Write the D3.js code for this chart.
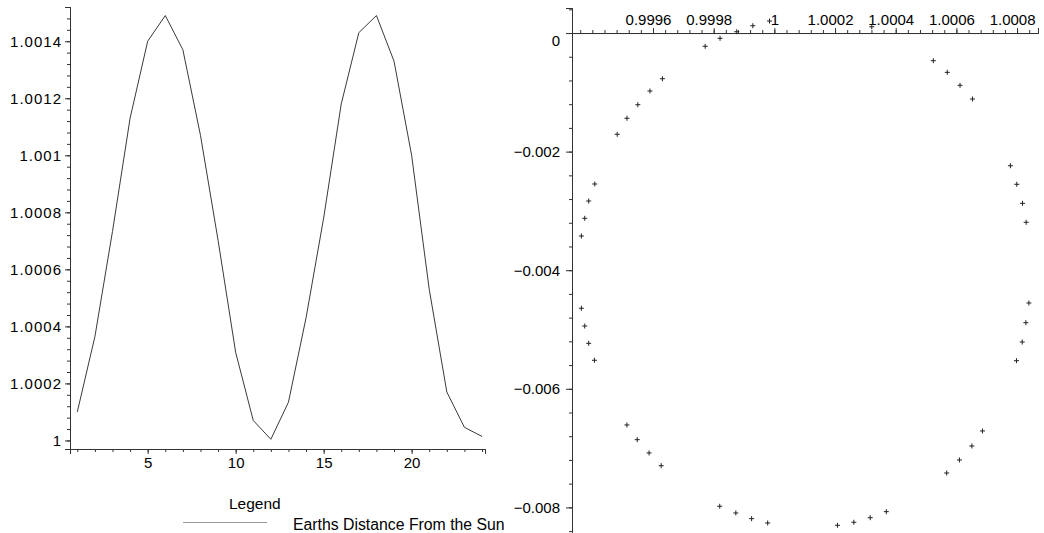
<!DOCTYPE html>
<html>
<head>
<meta charset="utf-8">
<script src="https://cdn.jsdelivr.net/npm/d3@7"></script>
<style>
  body { margin: 0; background: #fff; }
  text { font-family: "Liberation Sans", Arial, sans-serif; }
</style>
</head>
<body>
<script>
// distance from the sun, one value per month
var months = [1, 2, 3, 4, 5, 6, 7, 8, 9, 10, 11, 12, 13, 14, 15, 16, 17, 18, 19, 20, 21, 22, 23, 24];
var distance = [1.0001, 1.000364, 1.000733, 1.00113, 1.0014, 1.00149, 1.00137, 1.00107, 1.000702, 1.000309, 1.00007, 1.000004,
                1.000134, 1.00043, 1.00078, 1.00118, 1.00143, 1.00149, 1.00133, 1.001, 1.00053, 1.00017, 1.000046, 1.000014];

// orbit positions (x, y)
var orbitX = [1.000524, 1.000570, 1.000612, 1.000653,
              1.000778, 1.000799, 1.000818, 1.000830,
              1.000839, 1.000829, 1.000817, 1.000798,
              1.000686, 1.000651, 1.000610, 1.000568,
              1.000369, 1.000316, 1.000262, 1.000208,
              0.999978, 0.999925, 0.999873, 0.999820,
              0.999627, 0.999587, 0.999548, 0.999514,
              0.999407, 0.999388, 0.999375, 0.999364,
              0.999364, 0.999375, 0.999388, 0.999408,
              0.999482, 0.999514, 0.999550, 0.999590, 0.999631,
              0.999772, 0.999821, 0.999876, 0.999929, 0.999984,
              1.000321];
var orbitY = [-0.000467, -0.000663, -0.000882, -0.001113,
              -0.002238, -0.002551, -0.002872, -0.003192,
              -0.004553, -0.004885, -0.005211, -0.005526,
              -0.006711, -0.006964, -0.007200, -0.007420,
              -0.008072, -0.008174, -0.008251, -0.008302,
              -0.008263, -0.008190, -0.008094, -0.007981,
              -0.007297, -0.007082, -0.006858, -0.006610,
              -0.005519, -0.005233, -0.004941, -0.004642,
              -0.003423, -0.003125, -0.002833, -0.002546,
              -0.001708, -0.001438, -0.001209, -0.000978, -0.000771,
              -0.000224, -0.0000894, 0.0000219, 0.000123, 0.000202,
              0.000106];

var leftXTicks = [5, 10, 15, 20];
var leftYTicks = [1, 1.0002, 1.0004, 1.0006, 1.0008, 1.001, 1.0012, 1.0014];
var rightXTicks = [0.9996, 0.9998, 1, 1.0002, 1.0004, 1.0006, 1.0008];
var rightYTicks = [0, -0.002, -0.004, -0.006, -0.008];

var axisColor = "#333";

var svg = d3.select("body").append("svg")
    .attr("width", 1044)
    .attr("height", 533);

// ---- left chart ----
var xL = d3.scaleLinear().domain([0.585, 24.17]).range([70, 485]);
var yL = d3.scaleLinear().domain([0.99997, 1.00152]).range([449, 7]);

var left = svg.append("g");

// minor ticks
left.append("g")
    .attr("transform", "translate(0,449)")
    .call(d3.axisBottom(xL).tickValues(d3.range(1, 25)).tickSize(3).tickFormat(""));
left.append("g")
    .attr("transform", "translate(70,0)")
    .call(d3.axisLeft(yL).tickValues(d3.range(0, 39).map(function(i) { return 1 + i * 0.00004; })).tickSize(3).tickFormat(""));

// major ticks
left.append("g")
    .attr("transform", "translate(0,449)")
    .call(d3.axisBottom(xL).tickValues(leftXTicks).tickSize(5).tickFormat(d3.format("d")));
var yAxisL = left.append("g")
    .attr("transform", "translate(70,0)")
    .call(d3.axisLeft(yL).tickValues(leftYTicks).tickSize(5).tickFormat(function(d) { return String(+d.toFixed(4)); }));
yAxisL.selectAll("text").style("letter-spacing", "1px");

left.selectAll(".domain").attr("stroke", axisColor);
left.selectAll(".tick line").attr("stroke", axisColor);
left.selectAll(".tick text").attr("fill", "#000").style("font-size", "15px");

var line = d3.line()
    .x(function(d, i) { return xL(months[i]); })
    .y(function(d) { return yL(d); });

left.append("path")
    .datum(distance)
    .attr("fill", "none")
    .attr("stroke", "#3a3a3a")
    .attr("stroke-width", 1)
    .attr("d", line);

// legend
left.append("text")
    .attr("x", 229)
    .attr("y", 509)
    .style("font-size", "15.5px")
    .text("Legend");
left.append("line")
    .attr("x1", 183).attr("x2", 267)
    .attr("y1", 522.5).attr("y2", 522.5)
    .attr("stroke", "#999")
    .attr("stroke-width", 1);
left.append("text")
    .attr("x", 293)
    .attr("y", 530)
    .style("font-size", "15.8px")
    .text("Earths Distance From the Sun");

// ---- right chart ----
var xR = d3.scaleLinear().domain([0.999333, 1.000869]).range([572, 1038]);
var yR = d3.scaleLinear().domain([-0.008432, 0.000422]).range([533, 8]);

var right = svg.append("g");

right.append("g")
    .attr("transform", "translate(0," + yR(0) + ")")
    .call(d3.axisTop(xR).tickValues(d3.range(0, 38).map(function(i) { return 0.99936 + i * 0.00004; })).tickSize(3).tickFormat(""));
right.append("g")
    .attr("transform", "translate(" + xR.range()[0] + ",0)")
    .call(d3.axisLeft(yR).tickValues(d3.range(0, 23).map(function(i) { return 0.0004 - i * 0.0004; })).tickSize(3).tickFormat(""));

var xAxisR = right.append("g")
    .attr("transform", "translate(0," + yR(0) + ")")
    .call(d3.axisTop(xR).tickValues(rightXTicks).tickSize(5).tickFormat(function(d) { return String(+d.toFixed(4)); }));
xAxisR.selectAll("text").filter(function(d) { return d !== 1; }).attr("dx", -5);

var yAxisR = right.append("g")
    .attr("transform", "translate(" + xR.range()[0] + ",0)")
    .call(d3.axisLeft(yR).tickValues(rightYTicks).tickSize(6).tickPadding(6)
      .tickFormat(function(d) { return d === 0 ? "0" : d3.format(".3f")(d); }));
yAxisR.selectAll("text").filter(function(d) { return d === 0; }).attr("dy", "0.85em");

right.selectAll(".domain").attr("stroke", axisColor);
right.selectAll(".tick line").attr("stroke", axisColor);
right.selectAll(".tick text").attr("fill", "#000").style("font-size", "15px");

right.selectAll(".pt")
    .data(orbitX)
    .enter().append("path")
    .attr("class", "pt")
    .attr("transform", function(d, i) { return "translate(" + xR(d) + "," + yR(orbitY[i]) + ")"; })
    .attr("d", "M-2.5,0H2.5M0,-2.5V2.5")
    .attr("stroke", "#222")
    .attr("stroke-width", 1)
    .attr("fill", "none");
</script>
</body>
</html>
